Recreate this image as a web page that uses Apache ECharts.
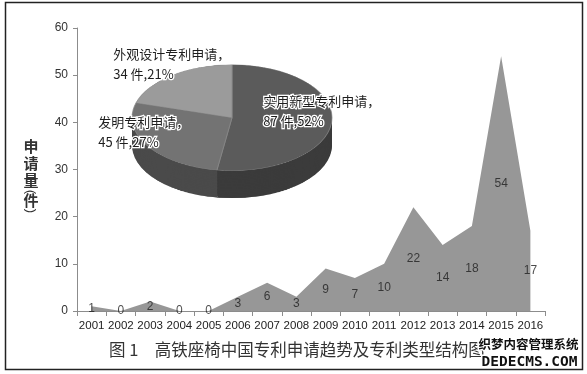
<!DOCTYPE html>
<html><head><meta charset="utf-8">
<script src="https://cdn.jsdelivr.net/npm/echarts@6/dist/echarts.min.js"></script>
<style>
html,body{margin:0;padding:0;background:#fff;}
#pie{position:absolute;left:112px;top:53px;width:240px;height:290px;transform:scaleY(0.53);transform-origin:0 0;}
#main{position:absolute;left:0;top:0;width:587px;height:374px;}
</style></head><body>
<div id="pie"></div>
<div id="main"></div>
<script>
// ---- data ----
const years = ['2001','2002','2003','2004','2005','2006','2007','2008','2009','2010','2011','2012','2013','2014','2015','2016'];
const applications = [1,0,2,0,0,3,6,3,9,7,10,22,14,18,54,17];
const yMin = 0, yMax = 60, yStep = 10;
const patentTypes = ['实用新型专利申请','发明专利申请','外观设计专利申请'];
const patentCounts = [87,45,34];
const patentShares = [52,27,21];
const yAxisTitle = ['申','请','量','(','件',')'];
const caption = '图 1　高铁座椅中国专利申请趋势及专利类型结构图';

// ---- styles ----
const topColors = ['#5b5b5b','#737373','#9b9b9b'];
const sideColors = ['#3b3b3b','#4a4a4a','#606060'];
const FONT = '"Liberation Sans", Arial, sans-serif';
const CJK = '"Noto Sans CJK SC", sans-serif';

// ---- pie (pseudo 3D) ----
const pieChart = echarts.init(document.getElementById('pie'), null, {renderer:'canvas'});
const depth = 52, layers = 18;
const pieSeries = [];
for (let k = layers; k >= 1; k--) {
  pieSeries.push({
    type:'pie', silent:true, animation:false,
    center:[120, 122 + depth * k / layers], radius:100,
    startAngle:90, clockwise:true,
    label:{show:false}, labelLine:{show:false},
    data: patentCounts.map((v,i)=>({value:v, name:patentTypes[i], itemStyle:{color:sideColors[i]}}))
  });
}
pieSeries.push({
  type:'pie', silent:true, animation:false,
  center:[120,122], radius:100, startAngle:90, clockwise:true,
  label:{show:false}, labelLine:{show:false},
  itemStyle:{borderColor:'#8a8a8a', borderWidth:0.8},
  data: patentCounts.map((v,i)=>({value:v, name:patentTypes[i], itemStyle:{color:topColors[i]}}))
});
pieChart.setOption({animation:false, series:pieSeries});

// ---- main chart ----
const chart = echarts.init(document.getElementById('main'), null, {renderer:'canvas'});
const pieLabelPos = [[262,111],[97,132],[112,64]];
const pieLabels = patentTypes.map((t,i)=>({
  type:'text', left:pieLabelPos[i][0], top:pieLabelPos[i][1] - 20, z:10,
  style:{text: t + '，\n' + patentCounts[i] + ' 件,' + patentShares[i] + '%',
    fill:'#1e1e1e', font:'13px ' + CJK, lineHeight:20,
    stroke:'#fff', lineWidth:2.5}
}));
const titleY = [146, 163, 180, 192, 200, 211];
const titleChars = yAxisTitle.map((c,i)=>{
  const paren = (c === '(' || c === ')');
  return {
    type:'text', x:31, y:titleY[i], rotation: paren ? -Math.PI/2 : 0,
    style:{text:c, fill:'#333', font:(paren ? '13px ' + FONT : 'bold 15px ' + CJK), align:'center', verticalAlign:'middle'}
  };
});

chart.setOption({
  animation:false,
  backgroundColor:'transparent',
  grid:{left:77, right:42, top:28, bottom:63},
  xAxis:{
    type:'category', data:years, boundaryGap:true,
    axisLine:{lineStyle:{color:'#8c8c8c', width:1}},
    axisTick:{show:true, length:5, interval:0, lineStyle:{color:'#8c8c8c'}},
    axisLabel:{interval:0, color:'#222', fontSize:11.5, fontFamily:FONT, margin:9}
  },
  yAxis:{
    type:'value', min:yMin, max:yMax, interval:yStep,
    axisLine:{show:true, lineStyle:{color:'#8c8c8c', width:1}},
    axisTick:{show:true, length:4, lineStyle:{color:'#8c8c8c'}},
    splitLine:{show:false},
    axisLabel:{color:'#333', fontSize:12, fontFamily:FONT, margin:9}
  },
  series:[
    {
      type:'line', data:applications, symbol:'none', silent:true, z:1,
      lineStyle:{width:0, opacity:0},
      areaStyle:{color:'#979797', opacity:1}
    },
    {
      type:'scatter', silent:true, symbolSize:1, z:5,
      itemStyle:{color:'transparent'},
      data: applications.map((v,i)=>[i, v/2]),
      label:{show:true, position:'inside', color:'#1e1e1e', fontSize:12, fontFamily:FONT,
        formatter: p => String(applications[p.dataIndex])}
    }
  ],
  graphic:[
    {type:'rect', shape:{x:5.5, y:2.5, width:577, height:367}, style:{fill:'none', stroke:'#222', lineWidth:1.5}, silent:true},
    ...titleChars,
    {type:'text', left:109, top:341, style:{text:caption, fill:'#333', font:'16.5px ' + CJK}},
    ...pieLabels,
    {type:'text', left:477, top:336, z:20, style:{text:'织梦内容管理系统', fill:'#111', font:'bold 12.5px ' + CJK, stroke:'#fff', lineWidth:3}},
    {type:'text', left:480, top:353, z:20, style:{text:'DEDECMS.COM', fill:'#111', font:'bold 14.5px "DejaVu Sans Mono", monospace', stroke:'#fff', lineWidth:3}}
  ]
});
</script>
</body></html>
